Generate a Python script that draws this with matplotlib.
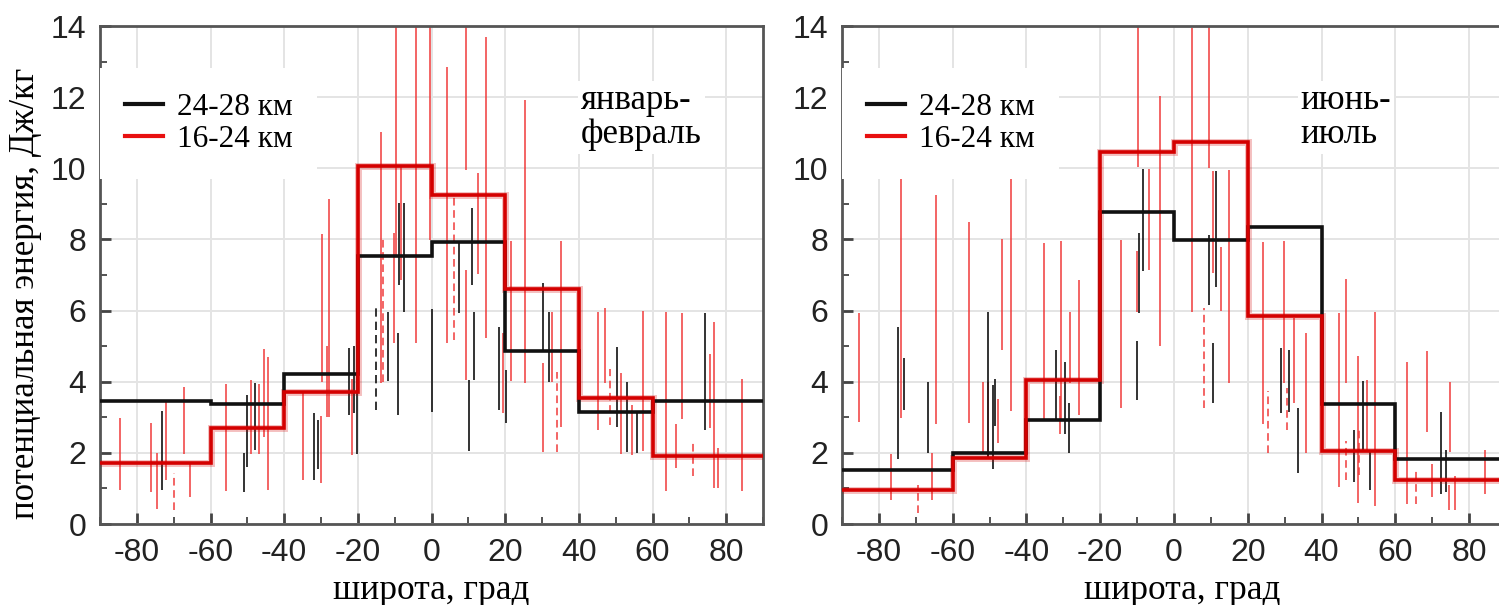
import matplotlib
matplotlib.use("Agg")
import matplotlib.pyplot as plt
from matplotlib.ticker import MultipleLocator
from matplotlib.lines import Line2D

plt.rcParams['font.family'] = ['Liberation Sans', 'DejaVu Sans']
plt.rcParams['axes.unicode_minus'] = False

# границы широтных поясов и средние значения
bin_edges = [-90, -60, -40, -20, 0, 20, 40, 60, 90]
jf_black = [3.47, 3.36, 4.23, 7.54, 7.92, 4.86, 3.15, 3.47]
jf_red = [1.71, 2.69, 3.72, 10.07, 9.24, 6.62, 3.54, 1.91]
jj_black = [1.53, 1.99, 2.91, 8.78, 7.97, 8.34, 3.38, 1.82]
jj_red = [0.96, 1.86, 4.06, 10.47, 10.73, 5.84, 2.06, 1.23]

# разброс (широта, мин, макс)
jf_red_bars = [(-84.5, 0.96, 2.98), (-76.1, 0.90, 2.84), (-74.6, 0.43, 2.01), (-72.2, 1.25, 3.45),
               (-67.3, 1.98, 3.86), (-65.5, 0.76, 1.68), (-55.7, 0.92, 3.93), (-48.9, 1.98, 4.05),
               (-46.7, 1.98, 3.93), (-45.4, 2.45, 4.93), (-44.3, 0.96, 4.7), (-34.8, 1.23, 3.67),
               (-30.1, 1.16, 3.04), (-29.7, 3.98, 8.14), (-28.5, 3.01, 5.0), (-27.8, 3.01, 9.15),
               (-21.6, 1.93, 4.09), (-13.8, 3.95, 11.03), (-10.3, 5.08, 8.18), (-9.6, 7.57, 14),
               (-8.2, 6.87, 10.06), (-4.3, 5.08, 14), (-0.5, 7.97, 14), (4.3, 5.08, 12.85),
               (9.3, 9.94, 14), (9.4, 4.05, 7.13), (12.6, 7.03, 9.88), (14.7, 5.22, 13.68),
               (19.5, 3.11, 5.36), (21.6, 4.02, 7.95), (25.5, 3.95, 11.92), (30.2, 2.03, 4.52),
               (32.8, 4.0, 5.96), (35.2, 2.73, 7.95), (45.1, 2.64, 5.95), (47.2, 3.97, 6.07),
               (51.4, 1.98, 4.24), (54.5, 1.93, 3.34), (57.4, 2.05, 5.99), (63.8, 0.94, 5.95),
               (66.5, 1.57, 2.8), (68.1, 2.95, 5.93), (75.5, 2.7, 4.78), (76.7, 1.02, 5.69),
               (77.9, 1.02, 2.14), (84.3, 0.94, 4.07)]
jf_red_dashed = [(-69.8, 0.38, 1.42), (-13.2, 4.0, 8.0), (6.2, 5.17, 9.24), (34.2, 2.03, 4.28),
                 (48.5, 2.78, 4.35), (70.9, 1.34, 2.35)]
jf_black_bars = [(-73.3, 0.96, 3.17), (-51, 0.9, 2.0), (-50, 1.6, 3.64), (-47.9, 2.07, 3.97),
                 (-32, 1.23, 3.12), (-30.9, 1.56, 2.92), (-22.4, 3.06, 4.94), (-21, 3.11, 4.99),
                 (-20.3, 1.98, 4.28), (-11.8, 4.02, 5.96), (-9.2, 3.06, 5.36), (-8.9, 6.73, 9.03),
                 (-7.6, 5.97, 9.03), (0, 3.14, 6.04), (7.6, 5.93, 7.9), (10.1, 2.04, 4.05),
                 (10.9, 6.73, 8.89), (11.5, 4.05, 5.96), (18.2, 3.2, 5.55), (20.2, 2.83, 4.33),
                 (30.2, 4.89, 6.77), (32, 4.0, 5.97), (50.4, 2.73, 4.97), (53.2, 2.03, 4.0),
                 (55.9, 2.0, 3.18), (74.3, 2.64, 5.93)]
jf_black_dashed = [(-15, 3.2, 6.09)]

jj_red_bars = [(-85.4, 2.87, 5.93), (-76.8, 0.68, 1.96), (-74.0, 2.97, 9.89), (-65.6, 0.68, 2.0),
               (-64.5, 2.81, 9.26), (-55.7, 2.84, 8.49), (-51.8, 2.0, 3.98), (-50.4, 1.84, 3.98),
               (-47.7, 2.29, 3.51), (-46.5, 4.89, 8.01), (-44.1, 3.17, 9.78), (-35.3, 2.92, 7.9),
               (-31.0, 2.54, 3.6), (-30.7, 2.92, 7.95), (-28.1, 3.95, 5.96), (-25.8, 3.06, 6.87),
               (-14.5, 3.25, 7.97), (-10.1, 5.97, 7.67), (-9.8, 10.03, 14), (-6.7, 7.13, 9.97),
               (-3.8, 5.0, 12.04), (5.0, 5.97, 13.94), (9.6, 10.02, 14), (10.7, 7.06, 9.92),
               (12.7, 5.99, 7.79), (14.9, 3.95, 9.95), (24.1, 2.81, 7.93), (29.8, 3.95, 7.95),
               (32.5, 3.39, 5.79), (35.7, 2.0, 5.36), (44.6, 1.04, 5.93), (46.6, 3.97, 6.89),
               (49.9, 0.59, 4.72), (52.3, 2.03, 4.05), (54.4, 0.52, 5.95), (63.1, 0.57, 4.56),
               (68.5, 2.59, 4.85), (70.0, 0.76, 1.7), (74.9, 2.03, 4.0), (74.6, 0.4, 1.09),
               (76.2, 0.38, 1.34), (84.4, 0.83, 2.07)]
jj_red_dashed = [(-69.4, 0.3, 1.1), (8.1, 3.25, 6.07), (25.5, 2.01, 3.75), (30.7, 2.64, 3.81),
                 (46.6, 1.23, 2.33), (50.2, 1.37, 2.64), (65.6, 0.57, 1.51)]
jj_black_bars = [(-74.9, 1.84, 5.55), (-73.3, 3.2, 4.68), (-66.6, 2.0, 3.98), (-50.5, 1.84, 5.96),
                 (-49.1, 1.56, 3.91), (-48.4, 2.76, 4.08), (-32.1, 2.92, 4.89), (-29.6, 2.54, 4.56),
                 (-28.5, 2.0, 3.39), (-10.1, 3.48, 5.15), (-9.5, 5.93, 8.18), (-8.4, 7.1, 9.97),
                 (9.6, 6.16, 8.12), (10.7, 3.39, 5.1), (11.3, 6.66, 9.92), (28.9, 3.11, 4.94),
                 (31.1, 3.15, 4.89), (33.6, 1.42, 3.25), (48.8, 1.18, 2.64), (51.2, 2.03, 4.02),
                 (53.0, 0.96, 2.03), (72.4, 0.85, 3.15), (73.7, 0.9, 2.07)]
jj_black_dashed = []

legend_labels = ['24-28 км', '16-24 км']
xticks = [-80, -60, -40, -20, 0, 20, 40, 60, 80]

RED = '#d40000'
RED_BAR = '#f03a3a'
BLACK = '#111111'
SERIF = ['Liberation Serif', 'DejaVu Serif']


def draw_bars(ax, bars, color, lw, dashed=False):
    if not bars:
        return
    x = [b[0] for b in bars]
    lo = [b[1] for b in bars]
    hi = [b[2] for b in bars]
    ls = (0, (5, 3)) if dashed else 'solid'
    ax.vlines(x, lo, hi, colors=color, linewidth=lw, linestyles=ls, zorder=2)


def panel(ax, black, red, red_bars, red_dashed, black_bars, black_dashed,
          season, season_x, xlabel_x):
    draw_bars(ax, red_bars, RED_BAR, 1.1)
    draw_bars(ax, red_dashed, RED_BAR, 1.1, dashed=True)
    draw_bars(ax, black_bars, BLACK, 1.2)
    draw_bars(ax, black_dashed, BLACK, 1.2, dashed=True)

    ax.stairs(red, bin_edges, baseline=None, color=RED, linewidth=5, alpha=0.25, zorder=3)
    ax.stairs(black, bin_edges, baseline=None, color=BLACK, linewidth=2.6, zorder=4)
    ax.stairs(red, bin_edges, baseline=None, color=RED, linewidth=2.6, zorder=4)

    ax.set_xlim(-90, 90)
    ax.set_ylim(0, 14)
    ax.set_xticks(xticks)
    ax.xaxis.set_minor_locator(MultipleLocator(10))
    ax.yaxis.set_major_locator(MultipleLocator(2))
    ax.yaxis.set_minor_locator(MultipleLocator(1))
    ax.grid(True, which='major', color='#e4e4e4', linewidth=1.4, zorder=0)
    ax.set_axisbelow(True)
    ax.tick_params(which='both', direction='in', colors='#444444', top=False, right=False,
                   labelcolor='#222222', labelsize=23)
    ax.tick_params(which='major', length=8, width=2, pad=10)
    ax.tick_params(which='minor', length=5, width=1.3)
    for s in ax.spines.values():
        s.set_color('#555555')
        s.set_linewidth(2)

    handles = [Line2D([], [], color=BLACK, linewidth=3), Line2D([], [], color='#e81010', linewidth=3)]
    leg = ax.legend(handles, legend_labels, loc='upper left', bbox_to_anchor=(0.0, 0.915),
                    borderaxespad=0, frameon=True, fancybox=False, edgecolor='none',
                    facecolor='white', framealpha=1, handlelength=1.2, handletextpad=0.45,
                    labelspacing=0.07, borderpad=0.8, prop={'family': SERIF, 'size': 22.5})
    leg.set_zorder(5)

    ax.text(season_x, 0.816, season, transform=ax.transAxes, ha='left', va='center',
            family=SERIF, fontsize=25, linespacing=1.05, zorder=5,
            bbox=dict(facecolor='white', edgecolor='none', pad=2))
    ax.text(xlabel_x, -0.1345, 'широта, град', transform=ax.transAxes, ha='center',
            va='center', family=SERIF, fontsize=25.5)


fig = plt.figure(figsize=(14.99, 6.05), dpi=100)
ax1 = fig.add_axes([100 / 1499, 81 / 605, 663 / 1499, 498 / 605])
ax2 = fig.add_axes([842 / 1499, 81 / 605, 664 / 1499, 498 / 605])

panel(ax1, jf_black, jf_red, jf_red_bars, jf_red_dashed, jf_black_bars, jf_black_dashed,
      'январь-\nфевраль', 0.7255, 0.5)
panel(ax2, jj_black, jj_red, jj_red_bars, jj_red_dashed, jj_black_bars, jj_black_dashed,
      'июнь-\nиюль', 0.691, 0.513)

ax1.text(-0.113, 0.464, 'потенциальная энергия, Дж/кг', transform=ax1.transAxes,
         rotation=90, ha='center', va='center', family=SERIF, fontsize=25)

fig.savefig('out.png', dpi=100)
